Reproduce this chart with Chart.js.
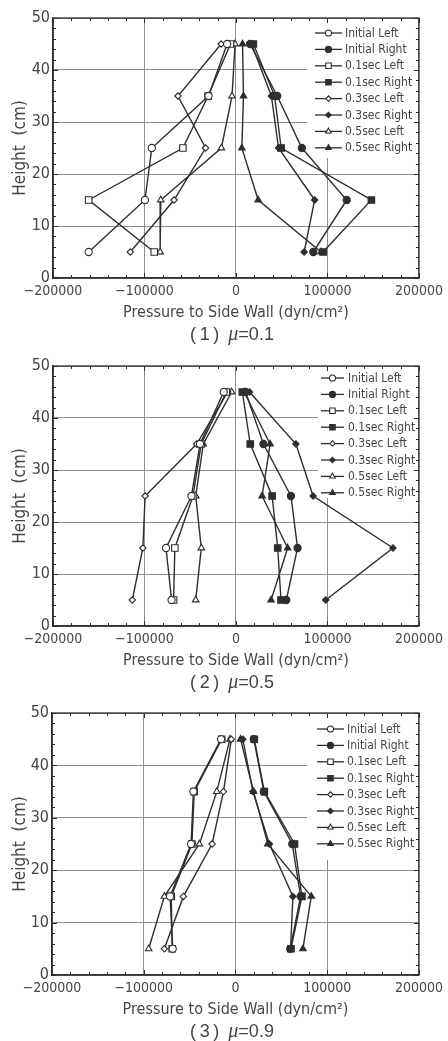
<!DOCTYPE html>
<html>
<head>
<meta charset="utf-8">
<script src="https://cdn.jsdelivr.net/npm/chart.js@4.4.1/dist/chart.umd.min.js"></script>
<style>
  html, body { margin: 0; padding: 0; background: #fff; }
  body { width: 448px; height: 1041px; position: relative; overflow: hidden; }
  canvas { position: absolute; left: 0; }
</style>
</head>
<body>
<canvas id="mu1" width="448" height="345" style="top:0px"></canvas>
<canvas id="mu5" width="448" height="348" style="top:345px"></canvas>
<canvas id="mu9" width="448" height="348" style="top:693px"></canvas>
<script>
// measuring heights (cm), top to bottom
const heights = [45, 35, 25, 15, 5];
const seriesNames = ['Initial Left', 'Initial Right', '0.1sec Left', '0.1sec Right',
  '0.3sec Left', '0.3sec Right', '0.5sec Left', '0.5sec Right'];
const xTicks = [-200000, -100000, 0, 100000, 200000];
const yTicks = [0, 10, 20, 30, 40, 50];

// pressure on the side wall (dyn/cm2), mu = 0.1
const initialLeft1 = [-9700, -30000, -92000, -99500, -161000];
const initialRight1 = [15400, 45100, 72000, 121000, 84500];
const sec01Left1 = [-6000, -30500, -58000, -161000, -89400];
const sec01Right1 = [19000, 42200, 49400, 148000, 95200];
const sec03Left1 = [-16200, -63400, -33200, -67700, -115500];
const sec03Right1 = [17000, 38700, 46500, 86000, 74500];
const sec05Left1 = [-1000, -4300, -16000, -82200, -82900];
const sec05Right1 = [7200, 8200, 6400, 24300, 93000];

// mu = 0.5
const initialLeft5 = [-13400, -39300, -48700, -76500, -70400];
const initialRight5 = [10500, 30000, 60100, 67300, 55000];
const sec01Left5 = [-10500, -38000, -47000, -66800, -68200];
const sec01Right5 = [6900, 15600, 39500, 45600, 49200];
const sec03Left5 = [-9000, -43000, -99300, -101800, -113300];
const sec03Right5 = [14800, 65500, 84300, 171600, 98100];
const sec05Left5 = [-4700, -35700, -44000, -37900, -44000];
const sec05Right5 = [9000, 37300, 28600, 56500, 38400];

// mu = 0.9
const initialLeft9 = [-15700, -45900, -48400, -71300, -68400];
const initialRight9 = [20000, 30900, 61900, 71000, 59700];
const sec01Left9 = [-15000, -45000, -47500, -70000, -69000];
const sec01Right9 = [20500, 31500, 64400, 72400, 60500];
const sec03Left9 = [-4500, -13100, -25500, -56800, -77500];
const sec03Right9 = [8000, 19000, 37000, 62600, 60000];
const sec05Left9 = [-6000, -20400, -39300, -77500, -94600];
const sec05Right9 = [5500, 19700, 35300, 82600, 73500];

const INK = '#2e2e2e';
const TEXT = '#454545';
const GRID = '#8e8e8e';
const NARROW = '"Liberation Sans Narrow", "DejaVu Sans Condensed", "Liberation Sans", sans-serif';

const markers = [
  { pointStyle: 'circle', radius: 3.6, filled: false },
  { pointStyle: 'circle', radius: 3.6, filled: true },
  { pointStyle: 'rect', radius: 4.6, filled: false },
  { pointStyle: 'rect', radius: 4.6, filled: true },
  { pointStyle: 'rectRot', radius: 3.2, filled: false },
  { pointStyle: 'rectRot', radius: 3.2, filled: true },
  { pointStyle: 'triangle', radius: 3.8, filled: false },
  { pointStyle: 'triangle', radius: 3.8, filled: true },
];

function fmt(v) {
  return v < 0 ? '\u2212' + Math.abs(v) : String(v);
}

// frame, inward ticks, boxed legend and caption
const decor = {
  id: 'decor',
  beforeDatasetsDraw(chart, args, o) {
    const { ctx, chartArea: a } = chart;
    ctx.save();
    ctx.fillStyle = '#fff';
    ctx.fillRect(a.right - o.box[0], a.top + 1, o.box[0] - 1, o.box[1]);
    ctx.restore();
  },
  afterDatasetsDraw(chart, args, o) {
    const { ctx, chartArea: a, scales } = chart;
    const xs = scales.x, ys = scales.y;
    ctx.save();
    ctx.strokeStyle = INK;
    ctx.lineWidth = 1;
    ctx.beginPath();
    for (let v = -200000; v <= 200000; v += 20000) {
      const px = Math.round(xs.getPixelForValue(v)) + 0.5;
      const len = v % 100000 === 0 ? 5 : 3;
      ctx.moveTo(px, a.bottom); ctx.lineTo(px, a.bottom - len);
      ctx.moveTo(px, a.top); ctx.lineTo(px, a.top + len);
    }
    for (let v = 0; v <= 50; v += 2) {
      const py = Math.round(ys.getPixelForValue(v)) + 0.5;
      const len = v % 10 === 0 ? 5 : 3;
      ctx.moveTo(a.left, py); ctx.lineTo(a.left + len, py);
      ctx.moveTo(a.right, py); ctx.lineTo(a.right - len, py);
    }
    ctx.stroke();
    ctx.lineWidth = 1.3;
    ctx.strokeRect(a.left, a.top, a.right - a.left, a.bottom - a.top);

    // legend
    ctx.font = '12px ' + NARROW;
    ctx.textBaseline = 'middle';
    ctx.textAlign = 'left';
    chart.data.datasets.forEach((ds, i) => {
      const y = a.top + o.legendTop + i * 16.4;
      const x1 = a.right - o.line[0], x2 = a.right - o.line[1];
      ctx.strokeStyle = INK;
      ctx.lineWidth = 1.3;
      ctx.beginPath();
      ctx.moveTo(x1, y); ctx.lineTo(x2, y);
      ctx.stroke();
      ctx.fillStyle = ds.pointBackgroundColor;
      ctx.lineWidth = 1.1;
      Chart.helpers.drawPoint(ctx, {
        pointStyle: ds.pointStyle, radius: ds.pointRadius * 0.85, rotation: 0, borderWidth: 1.1
      }, (x1 + x2) / 2, y);
      ctx.fillStyle = TEXT;
      ctx.fillText(ds.label, a.right - o.text, y + 0.5);
    });
    ctx.restore();
  },
  afterDraw(chart, args, o) {
    const { ctx, chartArea: a } = chart;
    const y = a.bottom + 57;
    const parts = [
      { t: '(\u2009' + o.num + '\u2009)\u2002', f: '18px "Liberation Sans", sans-serif' },
      { t: '\u03bc', f: 'italic 20px "Liberation Serif", serif' },
      { t: '=' + o.mu, f: '18px "Liberation Sans", sans-serif' },
    ];
    ctx.save();
    ctx.fillStyle = TEXT;
    ctx.textBaseline = 'middle';
    ctx.textAlign = 'left';
    let w = 0;
    parts.forEach(p => { ctx.font = p.f; p.w = ctx.measureText(p.t).width; w += p.w; });
    let x = 232 - w / 2;
    parts.forEach(p => { ctx.font = p.f; ctx.fillText(p.t, x, y); x += p.w; });
    ctx.restore();
  }
};

function makeChart(id, series, p) {
  const canvas = document.getElementById(id);
  const datasets = series.map((vals, i) => {
    const m = markers[i];
    return {
      label: seriesNames[i],
      data: vals.map((x, k) => ({ x: x, y: heights[k] })),
      showLine: true,
      borderColor: INK,
      borderWidth: 1.4,
      pointStyle: m.pointStyle,
      pointRadius: m.radius,
      pointBorderWidth: 1.1,
      pointBorderColor: INK,
      pointBackgroundColor: m.filled ? INK : '#fff',
      tension: 0,
    };
  });
  return new Chart(canvas, {
    type: 'scatter',
    data: { datasets },
    plugins: [decor],
    options: {
      responsive: false,
      animation: false,
      layout: {
        padding: { top: p.top, left: 0, right: 448 - p.right, bottom: canvas.height - p.bottom - 44 }
      },
      plugins: {
        legend: { display: false },
        tooltip: { enabled: false },
        decor: { box: p.box, legendTop: p.legendTop, line: p.line, text: p.text, num: p.num, mu: p.mu },
      },
      scales: {
        x: {
          type: 'linear',
          min: -200000,
          max: 200000,
          afterBuildTicks: s => { s.ticks = xTicks.map(v => ({ value: v })); },
          afterFit: s => { s.height = 44; },
          grid: { color: GRID, lineWidth: 1, drawTicks: false },
          border: { color: INK, width: 1.3 },
          ticks: {
            color: TEXT, padding: 5, maxRotation: 0,
            font: { family: NARROW, size: 14 },
            callback: v => fmt(v),
          },
          title: {
            display: true,
            text: 'Pressure to Side Wall (dyn/cm\u00b2)',
            color: TEXT,
            padding: { top: 0, bottom: 0 },
            font: { family: NARROW, size: 16 },
          },
        },
        y: {
          type: 'linear',
          min: 0,
          max: 50,
          afterBuildTicks: s => { s.ticks = yTicks.map(v => ({ value: v })); },
          afterFit: s => { s.width = p.left; },
          grid: { color: GRID, lineWidth: 1, drawTicks: false },
          border: { color: INK, width: 1.3 },
          ticks: {
            color: TEXT, padding: 3,
            font: { family: NARROW, size: 16 },
          },
          title: {
            display: true,
            text: 'Height  (cm)',
            color: TEXT,
            padding: { top: 10, bottom: 0 },
            font: { family: NARROW, size: 17 },
          },
        },
      },
    },
  });
}

makeChart('mu1',
  [initialLeft1, initialRight1, sec01Left1, sec01Right1, sec03Left1, sec03Right1, sec05Left1, sec05Right1],
  { top: 18, bottom: 278, left: 53, right: 424, box: [112, 139], legendTop: 15, line: [104, 77], text: 74, num: 1, mu: '0.1' });
makeChart('mu5',
  [initialLeft5, initialRight5, sec01Left5, sec01Right5, sec03Left5, sec03Right5, sec05Left5, sec05Right5],
  { top: 21, bottom: 281, left: 53, right: 423, box: [101, 131], legendTop: 12, line: [98, 75], text: 71, num: 2, mu: '0.5' });
makeChart('mu9',
  [initialLeft9, initialRight9, sec01Left9, sec01Right9, sec03Left9, sec03Right9, sec05Left9, sec05Right9],
  { top: 20, bottom: 282, left: 52, right: 420, box: [112, 146], legendTop: 16, line: [102, 75], text: 72, num: 3, mu: '0.9' });
</script>
</body>
</html>
